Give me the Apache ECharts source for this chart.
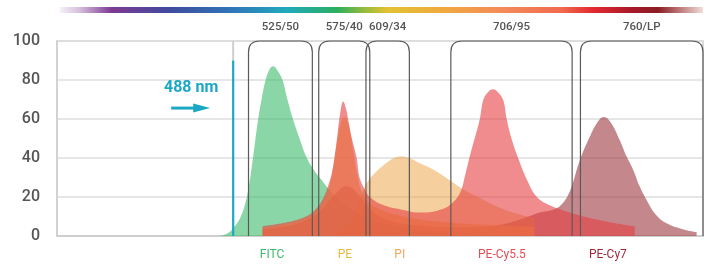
<!DOCTYPE html>
<html>
<head>
<meta charset="utf-8">
<script src="https://cdn.jsdelivr.net/npm/echarts@6/dist/echarts.min.js"></script>
<style>
html, body { margin: 0; padding: 0; background: #fff; }
#chart { width: 710px; height: 264px; }
</style>
</head>
<body>
<div id="chart"></div>
<script>
// wavelength axis in nm, intensity 0-100
const xMin = 350, xMax = 856;
const yTicks = [0, 20, 40, 60, 80, 100];

// laser line + its label
const laserNm = 488;
const laserTop = 90;
const laserText = '488 nm';

// band-pass filters
const filterNames = ['525/50', '575/40', '609/34', '706/95', '760/LP'];
const filterLo = [500, 555, 592, 658.5, 760];
const filterHi = [550, 595, 626, 753.5, 856];

// dye names under the axis
const dyeNames = ['FITC', 'PE', 'PI', 'PE-Cy5.5', 'PE-Cy7'];
const dyeLabelNm = [518.5, 575.5, 618.5, 698.5, 781.5];

// emission spectra [nm, %]
const fitc = [[477.6,0],[484,1.5],[488.6,4.5],[493.3,9],[497.2,16],[500.4,26],[503.5,40],[507.6,60],[510.5,71],[513.4,80],[516.5,85.5],[519.4,87],[522.5,85],[526.6,80],[530.5,70],[534.8,60],[540,50],[545,41],[551,34],[557,29],[563,24],[570,19],[580,14],[595,9],[615,5],[640,2.5],[680,1],[720,0]];
const pe = [[511,4],[525,5.5],[540,8],[550,11],[556,15],[561,21],[564.5,29],[567,38],[569.5,49],[572,57.5],[575,61],[577.5,59],[580,52],[582.5,42],[585,32],[589,22],[594,17],[602,14],[615,11],[640,8],[680,6],[724,4.5]];
const pi = [[565,0],[575,4],[582,10],[587,18],[592.5,27],[600,33],[608,37.5],[614,40],[620,40.8],[626,40],[632,38],[645,34],[658,28.5],[668,24],[680,20],[695,15],[710,11.5],[724,9]];
const peCy7 = [[511,3.5],[530,5],[545,8],[555,12],[563,18],[570,23],[576,25.5],[580,25],[585,22],[592,16],[600,11],[615,7],[640,5],[670,4.5],[695,5.5],[715,9],[728,12],[738.6,13.5],[745,16],[751.7,23],[759.6,39],[767.4,51],[773,58],[778.3,61],[784,58],[790.9,49],[796,41],[801.3,34],[806,26],[811.8,18.5],[819,11],[827.4,6.5],[840,3.5],[851,2]];
const peCy55 = [[511,5],[530,7],[545,10],[553,14],[559,20],[563,27],[565.5,33],[567.5,41],[569.5,51],[571.6,62],[574.2,69],[576.5,65],[578,60],[581,50],[584.7,40],[587,30],[591,24],[595,20],[605,16],[620,13.5],[635,12],[648,13],[658,16],[665.6,22],[670,32],[673.4,41],[678,52],[681.2,60],[684,70],[688,74],[691.7,75.2],[695,74],[699.5,69.7],[702.2,60],[706,50],[711.2,40],[718,29],[725.6,20.2],[735,16],[754,11.6],[780,7.5],[802.6,5]];

// drawing order matters: later layers tint the earlier ones
const spectra = [
    { name: 'FITC', data: fitc, color: 'rgba(61,186,106,0.6)' },
    { name: 'PE-Cy7', data: peCy7, color: 'rgba(157,55,62,0.6)' },
    { name: 'PE', data: pe, color: 'rgba(240,190,80,0.7)' },
    { name: 'PI', data: pi, color: 'rgba(236,160,60,0.5)' },
    { name: 'PE-Cy5.5', data: peCy55, color: 'rgba(230,63,67,0.6)' }
];
const dyeColors = ['#3dba6a', '#e8bb3e', '#f0a65c', '#e64c56', '#9e2a3a'];

const chart = echarts.init(document.getElementById('chart'));

const series = spectra.map(s => ({
    name: s.name,
    type: 'line',
    data: s.data,
    smooth: 0.4,
    symbol: 'none',
    silent: true,
    lineStyle: { width: 0 },
    areaStyle: { color: s.color, opacity: 1 }
}));

// filter boxes, open at the bottom, rounded on top
series.push({
    type: 'custom',
    z: 10,
    silent: true,
    clip: false,
    encode: { x: [0, 1], y: 2 },
    data: filterNames.map((n, i) => [filterLo[i], filterHi[i], 100]),
    renderItem(params, api) {
        const i = params.dataIndex;
        const tl = api.coord([api.value(0), 100]);
        const br = api.coord([api.value(1), 0]);
        const l = tl[0], t = tl[1], r = br[0], b = br[1];
        const rad = 11;
        const path = `M ${l} ${b} L ${l} ${t + rad} Q ${l} ${t} ${l + rad} ${t} L ${r - rad} ${t} Q ${r} ${t} ${r} ${t + rad} L ${r} ${b}`;
        return {
            type: 'group',
            children: [
                { type: 'path', shape: { pathData: path }, style: { fill: null, stroke: '#5a5a5a', lineWidth: 1.2 } },
                { type: 'text', x: (l + r) / 2, y: t - 14, style: { text: filterNames[i], fill: '#555', font: '500 11.5px Roboto', align: 'center', verticalAlign: 'middle' } }
            ]
        };
    }
});

// dye names below the axis
series.push({
    type: 'custom',
    z: 10,
    silent: true,
    clip: false,
    data: dyeLabelNm.map(v => [v, 0]),
    renderItem(params, api) {
        const i = params.dataIndex;
        const p = api.coord([api.value(0), 0]);
        return { type: 'text', x: p[0], y: p[1] + 19, style: { text: dyeNames[i], fill: dyeColors[i], font: '12px Roboto', align: 'center', verticalAlign: 'middle' } };
    }
});

// laser line, label and arrow
series.push({
    type: 'custom',
    z: 11,
    silent: true,
    clip: false,
    data: [[laserNm, laserTop]],
    renderItem(params, api) {
        const top = api.coord([api.value(0), 100]);
        const mid = api.coord([api.value(0), api.value(1)]);
        const bot = api.coord([api.value(0), 0]);
        const x = mid[0];
        const ty = api.coord([laserNm, 76])[1];
        const ay = api.coord([laserNm, 65.6])[1];
        return {
            type: 'group',
            children: [
                { type: 'line', shape: { x1: x, y1: top[1], x2: x, y2: mid[1] }, style: { stroke: '#cfcfcf', lineWidth: 2 } },
                { type: 'line', shape: { x1: x, y1: mid[1], x2: x, y2: bot[1] }, style: { stroke: '#1ba8c5', lineWidth: 2.2 } },
                { type: 'text', x: x - 42, y: ty, style: { text: laserText, fill: '#1ba8c5', font: 'bold 16px Roboto', align: 'center', verticalAlign: 'middle' } },
                { type: 'line', shape: { x1: x - 62, y1: ay, x2: x - 38, y2: ay }, style: { stroke: '#1ba8c5', lineWidth: 3 } },
                { type: 'polygon', shape: { points: [[x - 40, ay - 4.5], [x - 23, ay], [x - 40, ay + 4.5]] }, style: { fill: '#1ba8c5' } }
            ]
        };
    }
});

const option = {
    animation: false,
    grid: { left: 57, right: 7, top: 41, bottom: 28, show: true, borderColor: '#cfcfcf', borderWidth: 1.5 },
    graphic: [{
        type: 'rect',
        left: 60, top: 7,
        shape: { width: 643, height: 6 },
        style: {
            fill: new echarts.graphic.LinearGradient(0, 0, 1, 0, [
                { offset: 0.00, color: '#f6f0f7' },
                { offset: 0.03, color: '#d6c0df' },
                { offset: 0.08, color: '#7d3a92' },
                { offset: 0.17, color: '#3f4b9e' },
                { offset: 0.27, color: '#2f77b8' },
                { offset: 0.35, color: '#22a8bd' },
                { offset: 0.43, color: '#2aae60' },
                { offset: 0.47, color: '#8dba3e' },
                { offset: 0.51, color: '#e3c232' },
                { offset: 0.60, color: '#f0a840' },
                { offset: 0.69, color: '#f4895a' },
                { offset: 0.78, color: '#f06b4e' },
                { offset: 0.83, color: '#e2282f' },
                { offset: 0.89, color: '#a8182a' },
                { offset: 0.93, color: '#8a1d22' },
                { offset: 1.00, color: '#f2dcd8' }
            ])
        }
    }],
    xAxis: {
        type: 'value',
        min: xMin, max: xMax,
        axisLine: { show: true, lineStyle: { color: '#cfcfcf', width: 2 } },
        axisTick: { show: false },
        axisLabel: { show: false },
        splitLine: { show: false }
    },
    yAxis: {
        type: 'value',
        min: yTicks[0], max: yTicks[yTicks.length - 1], interval: 20,
        axisLine: { show: true, lineStyle: { color: '#cfcfcf', width: 1.5 } },
        axisTick: { show: false },
        axisLabel: { color: '#555', fontSize: 16, fontWeight: 500, fontFamily: 'Roboto', margin: 17 },
        splitLine: { lineStyle: { color: '#dedede', width: 1.5 } }
    },
    series
};
chart.setOption(option);
</script>
</body>
</html>
